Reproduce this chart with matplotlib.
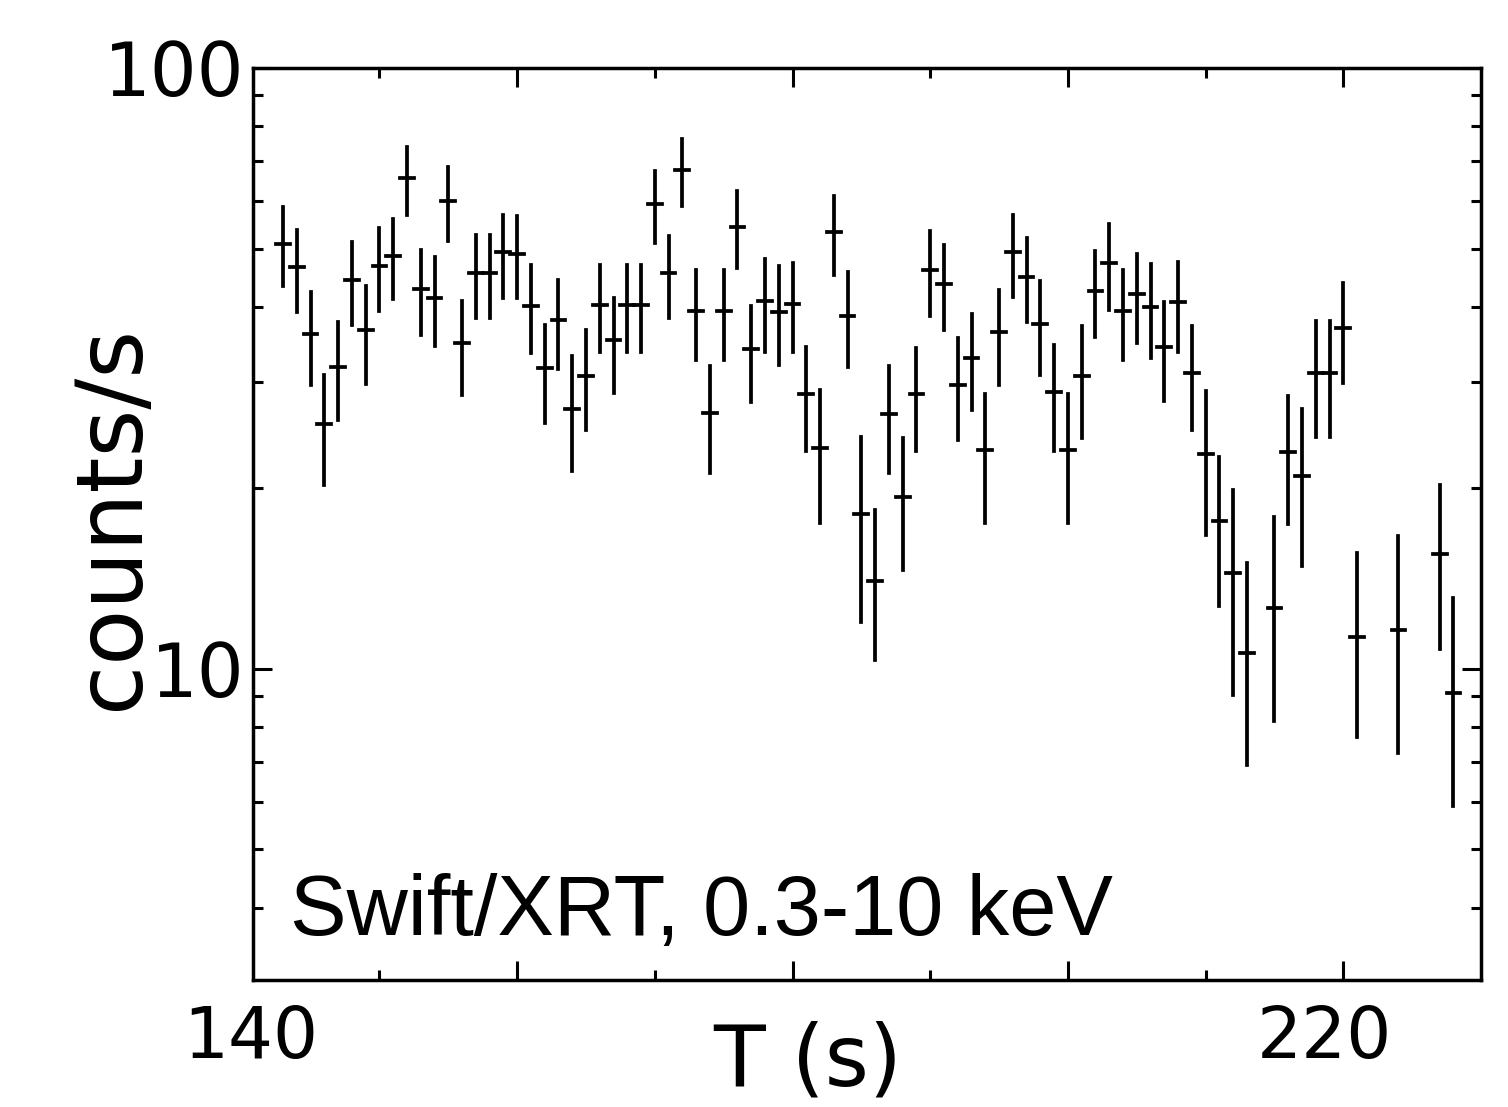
import numpy as np
import matplotlib
matplotlib.use("Agg")
import matplotlib.pyplot as plt
from matplotlib import ticker

# 1-s binned Swift/XRT light curve (0.3-10 keV)
time = np.array([143, 144, 145, 146, 147, 148, 149, 150, 151, 152,
                 153, 154, 155, 156, 157, 158, 159, 160, 161, 162,
                 163, 164, 165, 166, 167, 168, 169, 170, 171, 172,
                 173, 174, 175, 176, 177, 178, 179, 180, 181, 182,
                 183, 184, 185, 186, 187, 188, 189, 190, 191, 192,
                 193, 194, 195, 196, 197, 198, 199, 200, 201, 202,
                 203, 204, 205, 206, 207, 208, 209, 210, 211, 212,
                 213, 215, 216, 217, 218, 219, 220, 221, 224, 227,
                 228])
rate = np.array([51.0, 46.6, 36.0, 25.5, 31.8, 44.4, 36.6, 46.8, 48.7, 65.5,
                 42.8, 41.4, 60.0, 34.8, 45.5, 45.5, 49.3, 49.0, 40.1, 31.6,
                 38.0, 27.1, 30.7, 40.3, 35.2, 40.3, 40.3, 59.3, 45.5, 67.6,
                 39.4, 26.6, 39.4, 54.3, 34.0, 40.9, 39.3, 40.5, 28.6, 23.3,
                 53.3, 38.7, 18.1, 14.0, 26.5, 19.3, 28.6, 46.1, 43.6, 29.7,
                 32.9, 23.1, 36.3, 49.3, 44.8, 37.5, 28.9, 23.1, 30.7, 42.5,
                 47.4, 39.4, 42.0, 40.0, 34.3, 40.7, 31.1, 22.8, 17.6, 14.4,
                 10.6, 12.6, 22.9, 20.9, 31.1, 31.1, 36.9, 11.3, 11.6, 15.5,
                 9.12])
rate_lo = np.array([43.3, 39.3, 29.7, 20.2, 25.9, 37.4, 29.8, 39.4, 41.3, 56.9,
                    35.9, 34.4, 51.5, 28.5, 38.4, 38.4, 41.4, 41.4, 33.5, 25.6,
                    31.5, 21.3, 25.0, 33.6, 28.8, 33.6, 33.6, 51.1, 38.4, 59.0,
                    32.7, 21.2, 32.7, 46.5, 27.8, 33.7, 32.0, 33.6, 23.0, 17.5,
                    45.3, 31.8, 11.95, 10.35, 21.2, 14.6, 23.0, 38.6, 36.6, 24.0,
                    26.9, 17.5, 29.7, 41.5, 37.7, 30.8, 23.0, 17.5, 24.2, 35.6,
                    39.6, 32.7, 34.8, 32.9, 27.9, 33.7, 25.0, 16.7, 12.7, 9.03,
                    6.91, 8.18, 17.4, 14.8, 24.3, 24.3, 29.9, 7.70, 7.24, 10.8,
                    5.90])
rate_hi = np.array([58.6, 53.8, 42.3, 30.8, 37.8, 51.4, 43.3, 54.1, 56.1, 74.0,
                    49.7, 48.5, 68.5, 41.0, 52.8, 52.8, 57.0, 56.6, 47.0, 37.4,
                    44.4, 33.1, 36.6, 47.0, 41.4, 47.0, 47.0, 67.3, 52.6, 76.2,
                    46.1, 31.9, 46.1, 62.3, 40.1, 48.0, 46.8, 47.3, 34.3, 29.1,
                    61.3, 45.7, 24.3, 18.4, 31.9, 24.2, 34.2, 53.6, 50.7, 35.5,
                    38.9, 28.7, 42.7, 57.0, 52.1, 44.2, 34.6, 28.7, 37.2, 49.5,
                    55.0, 46.1, 49.0, 47.1, 40.7, 47.6, 37.2, 29.0, 22.5, 19.8,
                    15.0, 17.9, 28.4, 27.1, 37.9, 37.9, 43.8, 15.6, 16.65, 20.2,
                    13.1])
bin_half = 0.5

tick_font = "DejaVu Sans"
label_font = "DejaVu Sans"

fig = plt.figure(figsize=(15.08, 11.07), dpi=100)
ax = fig.add_axes([0.1678, 0.1147, 0.8143, 0.8239])

eb = ax.errorbar(time, rate, xerr=bin_half, yerr=[rate - rate_lo, rate_hi - rate],
                 fmt='none', ecolor='black', elinewidth=2.7, capsize=0)
for coll in eb[2]:
    coll.set_capstyle('projecting')

ax.set_yscale('log')
ax.set_xlim(140.82, 230.0)
ax.set_ylim(3.03, 100)

ax.set_xticks([160, 180, 200, 220])
ax.set_xticks([150, 170, 190, 210], minor=True)
ax.set_xticklabels([])
ax.yaxis.set_major_locator(ticker.FixedLocator([10, 100]))
ax.yaxis.set_minor_locator(ticker.LogLocator(base=10, subs=np.arange(2, 10)))
ax.yaxis.set_major_formatter(ticker.FuncFormatter(lambda v, p: f"{v:g}"))
ax.yaxis.set_minor_formatter(ticker.NullFormatter())

ax.tick_params(which='both', direction='in', top=True, right=True, width=2.2)
ax.tick_params(which='major', length=14, pad=6, labelsize=53)
ax.tick_params(which='minor', length=7)
for lab in ax.get_yticklabels():
    lab.set_family(tick_font)
for sp in ax.spines.values():
    sp.set_linewidth(2.5)

# x tick labels sit a bit off their ticks in the original
xt = ax.get_xaxis_transform()
ax.text(140.65, -0.0636, "140", transform=xt, ha='center', va='center',
        fontsize=51, family=tick_font, clip_on=False)
ax.text(218.6, -0.0636, "220", transform=xt, ha='center', va='center',
        fontsize=51, family=tick_font, clip_on=False)

ax.set_xlabel("T (s)", fontsize=61, family=label_font, va='center', ha='center')
ax.xaxis.set_label_coords(0.452, -0.0899)
ax.set_ylabel("counts/s", fontsize=66, family=label_font, va='center', ha='center')
ax.yaxis.set_label_coords(-0.1148, 0.5077)

ax.text(0.030, 0.049, "Swift/XRT, 0.3-10 keV", transform=ax.transAxes,
        fontsize=61, family="Liberation Sans", ha='left', va='baseline')

fig.savefig("out.png", dpi=100)
